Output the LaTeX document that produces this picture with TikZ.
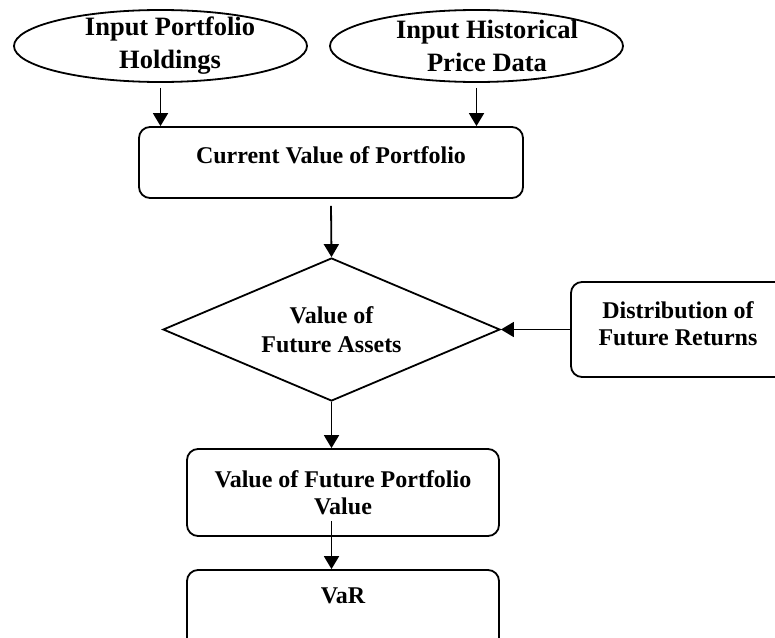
\documentclass[tikz,border=0pt]{standalone}
\usepackage{fontspec}
\setmainfont{Liberation Serif}
\usetikzlibrary{shapes.geometric,arrows.meta}
\begin{document}
\begin{tikzpicture}[x=1pt,y=-1pt,
  lw/.style={line width=1.8pt},
  ellbox/.style={draw, lw, ellipse, inner sep=0pt, minimum width=293pt, minimum height=72pt},
  rbox/.style={draw, lw, rectangle, rounded corners=11pt, inner sep=0pt},
  dia/.style={draw, lw, diamond, inner sep=0pt, aspect=2.36, minimum width=337pt, minimum height=143pt, align=center, font=\bfseries\fontsize{24}{29}\selectfont},
  etxt/.style={align=center, inner sep=0pt, font=\bfseries\fontsize{26.5}{33}\selectfont},
  btxt/.style={align=center, inner sep=0pt, font=\bfseries\fontsize{24}{27}\selectfont},
  arr/.style={lw, -{Triangle[length=13pt,width=15pt]}}
]
\useasboundingbox (0,0) rectangle (775,637);
\clip (0,0) rectangle (775,637);
\node[ellbox] (e1) at (160.5,46) {};
\node[etxt] (t1) at (170,45.5) {Input Portfolio\\Holdings};
\node[ellbox] (e2) at (476.5,46) {};
\node[etxt] (t2) at (487,45.5) {Input Historical\\Price Data};
\node[rbox, minimum width=384pt, minimum height=71pt] (cur) at (331,162.5) {};
\node[btxt] (tcur) at (331,155) {Current Value of Portfolio};
\node[dia] (fa) at (331.5,329.5) {Value of\\Future Assets};
\node[rbox, minimum width=230pt, minimum height=95pt] (dist) at (686,329.5) {};
\node[btxt] (tdist) at (678,323.5) {Distribution of\\Future Returns};
\node[rbox, btxt, minimum width=312pt, minimum height=87pt] (val) at (343,492.5) {Value of Future Portfolio\\Value};
\node[rbox, minimum width=312pt, minimum height=100pt] (var) at (343,620) {};
\node[btxt] (tvar) at (343,596) {VaR};
\draw[arr] ([yshift=-5pt]e1.south) -- (e1.south |- cur.north);
\draw[arr] ([yshift=-5pt]e2.south) -- (e2.south |- cur.north);
\draw[arr] ([yshift=-7pt]cur.south) -- (fa.north);
\draw[arr] (fa.south) -- (fa.south |- val.north);
\draw[arr] ([yshift=16pt]fa.south |- val.south) -- (fa.south |- var.north);
\draw[arr] (dist.west) -- (fa.east);
\end{tikzpicture}
\end{document}
